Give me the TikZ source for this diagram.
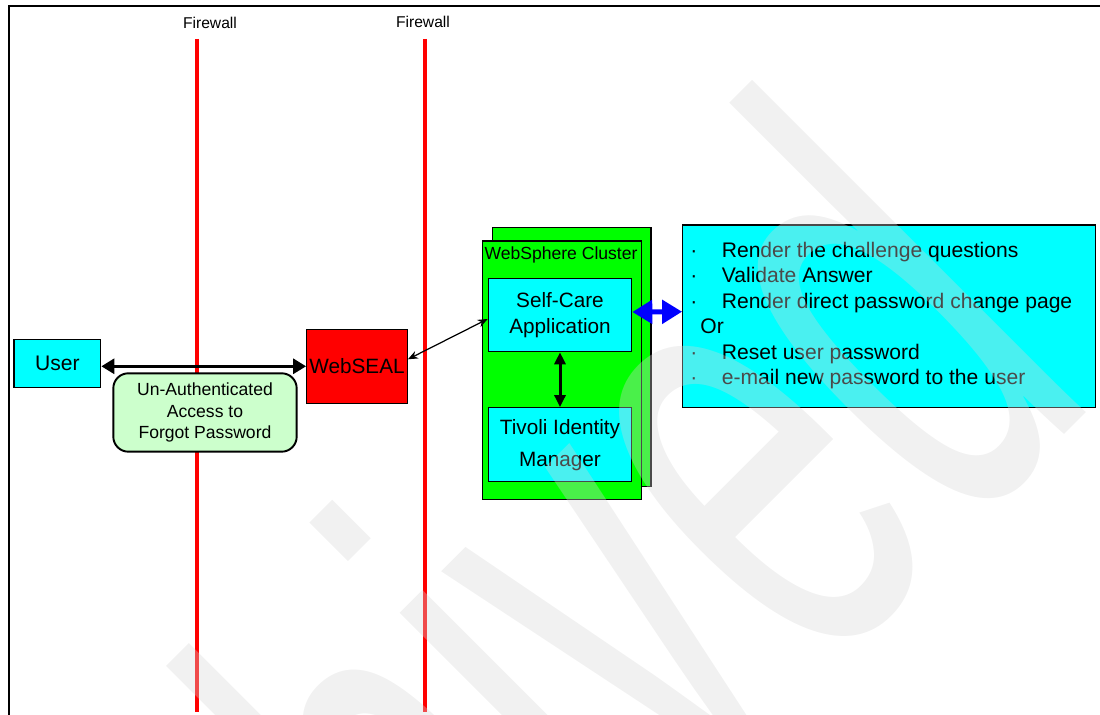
\documentclass[tikz,border=0pt]{standalone}
\usepackage{fontspec}
\setmainfont{Liberation Sans}
\usetikzlibrary{arrows.meta}
\definecolor{fwred}{RGB}{255,0,0}
\definecolor{boxcyan}{RGB}{0,255,255}
\definecolor{clustergreen}{RGB}{0,255,0}
\definecolor{palegreen}{RGB}{204,255,204}
\definecolor{arrowblue}{RGB}{0,0,255}
\definecolor{wmgray}{gray}{0.84}
\tikzset{
	box/.style={draw, line width=0.7pt, inner sep=0pt, align=center},
	cyanbox/.style={box, fill=boxcyan},
	firewall/.style={fwred, line width=0.08cm},
	fwlabel/.style={inner sep=0pt, font=\fontsize{8.9}{10}\selectfont},
	bigarrow/.style={line width=0.06cm, {Triangle[length=0.26cm,width=0.3cm]}-{Triangle[length=0.26cm,width=0.3cm]}},
	stamp/.style={anchor=base west, inner sep=0pt, outer sep=0pt, rotate=45, xscale=0.566,
		text=wmgray, text opacity=0.35, font=\fontsize{370}{370}\selectfont}
}

\begin{document}
\begin{tikzpicture}[x=0.02cm, y=-0.02cm]
	\useasboundingbox (0,0) rectangle (1100,715);
	\begin{scope}
	\clip (0,0) rectangle (1100,715);

% frame
	\draw[line width=0.85pt] (9,720) -- (9,6) -- (1105,6);

% firewalls
	\node[fwlabel] (fwa) at (210,23) {Firewall};
	\node[fwlabel] (fwb) at (423,22) {Firewall};
	\draw[firewall] (197,39) -- (197,712);
	\draw[firewall] (425,39) -- (425,712);

% left side
	\node[cyanbox, minimum width=1.734cm, minimum height=0.968cm, font=\fontsize{12}{14}\selectfont] (user) at (57.4,363.5) {User};
	\node[box, fill=fwred, minimum width=2.012cm, minimum height=1.48cm, font=\fontsize{11.8}{14}\selectfont] (webseal) at (357,366.3) {WebSEAL};
	\node[box, fill=palegreen, line width=1.1pt, rounded corners=0.3cm, minimum width=3.668cm, minimum height=1.568cm,
		font=\fontsize{10}{12.2}\selectfont] (forgot) at (205,412.5) {Un-Authenticated\\Access to\\Forgot Password};

% websphere cluster
	\node[box, fill=clustergreen, minimum width=3.166cm, minimum height=5.188cm] (clusterback) at (571.9,357) {};
	\node[box, fill=clustergreen, minimum width=3.18cm, minimum height=5.166cm] (cluster) at (562.2,370.2) {};
	\node[inner sep=0pt, font=\fontsize{10}{12}\selectfont] (clustername) at (561,254.5) {WebSphere Cluster};
	\node[cyanbox, minimum width=2.868cm, minimum height=1.468cm, font=\fontsize{11.8}{14.6}\selectfont] (selfcare) at (560,315) {Self-Care\\Application};
	\node[cyanbox, minimum width=2.868cm, minimum height=1.48cm, font=\fontsize{11.8}{18.2}\selectfont] (tim) at (560,444.7) {Tivoli Identity\\Manager};

% right box
	\node[cyanbox, minimum width=8.26cm, minimum height=3.646cm] (tasks) at (889.2,316.2) {};
	\node[inner sep=0pt, anchor=west, align=left, font=\fontsize{12}{14.5}\selectfont] (tasklist) at (690,315.5)
		{\makebox[0.63cm][l]{·}Render the challenge questions\\
		 \makebox[0.63cm][l]{·}Validate Answer\\
		 \makebox[0.63cm][l]{·}Render direct password change page\\
		 \hspace*{0.2cm}Or\\
		 \makebox[0.63cm][l]{·}Reset user password\\
		 \makebox[0.63cm][l]{·}e-mail new password to the user};

% links
	\draw[bigarrow] (user.east |- webseal.west) -- (webseal.west);
	\draw[line width=0.7pt, {Stealth[length=0.2cm,width=0.16cm]}-{Stealth[length=0.2cm,width=0.16cm]}] ([yshift=0.14cm]webseal.east) -- ([yshift=-0.08cm]selfcare.west);
	\draw[line width=0.06cm, {Triangle[length=0.24cm,width=0.22cm]}-{Triangle[length=0.24cm,width=0.22cm]}] (selfcare.south) -- (tim.north);
	\draw[arrowblue, line width=0.1cm, {Triangle[length=0.4cm,width=0.46cm]}-{Triangle[length=0.4cm,width=0.46cm]}] ([yshift=0.06cm]selfcare.east) -- ([yshift=0.09cm]tasks.west);

% watermark
	\node[stamp] (archived) at (91,1408) {Archived};
	\end{scope}
\end{tikzpicture}
\end{document}
